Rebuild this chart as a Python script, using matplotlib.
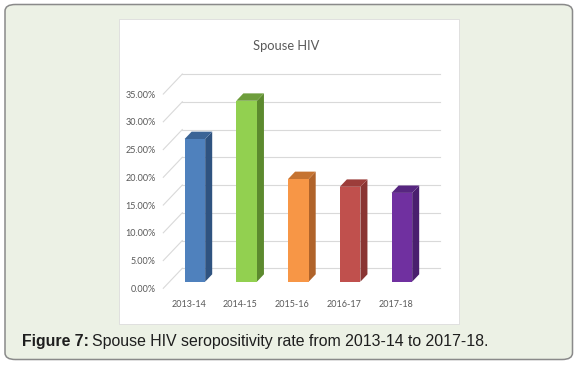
import numpy as np
import matplotlib
matplotlib.use('Agg')
import matplotlib.pyplot as plt
from matplotlib.patches import Polygon, Rectangle, FancyBboxPatch

# chart data
years = ['2013-14', '2014-15', '2015-16', '2016-17', '2017-18']
rates = [25.7, 32.6, 18.5, 17.1, 16.0]          # percent
yticks = [0, 5, 10, 15, 20, 25, 30, 35]

front_colors = ['#4f81bd', '#92d050', '#f79646', '#c0504d', '#7030a0']
side_colors = ['#2f5380', '#5c8a2e', '#b0632a', '#8a3533', '#4a1f6e']
top_colors = ['#3b6496', '#6e9e3c', '#c57331', '#9c3d3a', '#572680']

W, H = 577, 365
fig = plt.figure(figsize=(W / 100, H / 100), dpi=100)
fig.patch.set_facecolor('white')

# outer caption box and white chart panel (figure pixel coords)
def px_rect(x0, y0, x1, y1):
    return x0 / W, 1 - y1 / H, (x1 - x0) / W, (y1 - y0) / H

bx, by, bw, bh = px_rect(5, 4.5, 572.5, 359.5)
fig.patches.append(FancyBboxPatch((bx, by), bw, bh,
                                  boxstyle='round,pad=0,rounding_size=0.018',
                                  transform=fig.transFigure, facecolor='#ecf1e5',
                                  edgecolor='#8a8a8a', linewidth=1.1, zorder=0))
px, py, pw, ph = px_rect(119, 18.5, 458.5, 324)
fig.patches.append(Rectangle((px, py), pw, ph, transform=fig.transFigure,
                             facecolor='white', edgecolor='#dcdcdc',
                             linewidth=0.6, zorder=1))

# plot axes, scale in pixels per data unit
KX, KY = 51.75, 5.55          # px per category, px per percent
X0, Y0 = 188.6, 288.3         # pixel position of (0, 0) on front plane
xlim = (-0.553, 5.0)
ylim = (-1.57, 40)
left = X0 + xlim[0] * KX
right = X0 + xlim[1] * KX
bottom = Y0 - ylim[0] * KY
top = Y0 - ylim[1] * KY
ax = fig.add_axes(px_rect(left, top, right, bottom), zorder=2)
ax.set_xlim(*xlim)
ax.set_ylim(*ylim)
ax.patch.set_alpha(0)
for s in ax.spines.values():
    s.set_visible(False)

# depth vector of the 3D box (front plane -> back wall)
DX, DY = 19 / KX, 20 / KY
t0, t1 = 0.33, 0.70           # bar front / back depth
bw_ = 20.6 / KX

# gridlines on back wall with diagonal side lines
gx0, gx1 = -0.489, 4.49
for g in yticks:
    ax.plot([gx0 + DX, gx1 + DX], [g + DY, g + DY], color='#d9d9d9', lw=0.8, zorder=1)
    ax.plot([gx0, gx0 + DX], [g, g + DY], color='#d9d9d9', lw=0.8, zorder=1)

# 3D bars
for i, (v, fc, sc, tc) in enumerate(zip(rates, front_colors, side_colors, top_colors)):
    xl = i - bw_ / 2 + t0 * DX
    xr = xl + bw_
    yb = t0 * DY
    yt = yb + v
    ddx, ddy = (t1 - t0) * DX, (t1 - t0) * DY
    ax.add_patch(Polygon([(xr, yb), (xr + ddx, yb + ddy), (xr + ddx, yt + ddy), (xr, yt)],
                         closed=True, facecolor=sc, edgecolor='none', zorder=3))
    ax.add_patch(Polygon([(xl, yt), (xr, yt), (xr + ddx, yt + ddy), (xl + ddx, yt + ddy)],
                         closed=True, facecolor=tc, edgecolor='none', zorder=3))
    ax.add_patch(Rectangle((xl, yb), bw_, v, facecolor=fc, edgecolor='none', zorder=4))

lab_font = ['Lato', 'DejaVu Sans']
ax.set_yticks(yticks)
ax.set_yticklabels([f'{t:.2f}%' for t in yticks], family=lab_font, fontsize=6.5, color='#595959')
ax.set_xticks(range(len(years)))
ax.set_xticklabels(years, family=lab_font, fontsize=6.5, color='#595959')
ax.tick_params(axis='y', length=0, pad=3.0)
ax.tick_params(axis='x', length=0, pad=2.0)

fig.text(286.5 / W, 1 - 46 / H, 'Spouse HIV', family=lab_font, fontsize=9.3,
         color='#595959', ha='center', va='center')

# caption: bold label followed by regular text
cap_y = 1 - 341.5 / H
t_bold = fig.text(21.7 / W, cap_y, 'Figure 7:', family='Liberation Sans', fontsize=11.45,
                  fontweight='bold', color='#1e1e1e', ha='left', va='center')
fig.canvas.draw()
bb = t_bold.get_window_extent()
fig.text(bb.x1 / W + 3.5 / W, cap_y, 'Spouse HIV seropositivity rate from 2013-14 to 2017-18.',
         family='Liberation Sans', fontsize=11.45, color='#1e1e1e', ha='left', va='center')

fig.savefig('out.png', dpi=100)
